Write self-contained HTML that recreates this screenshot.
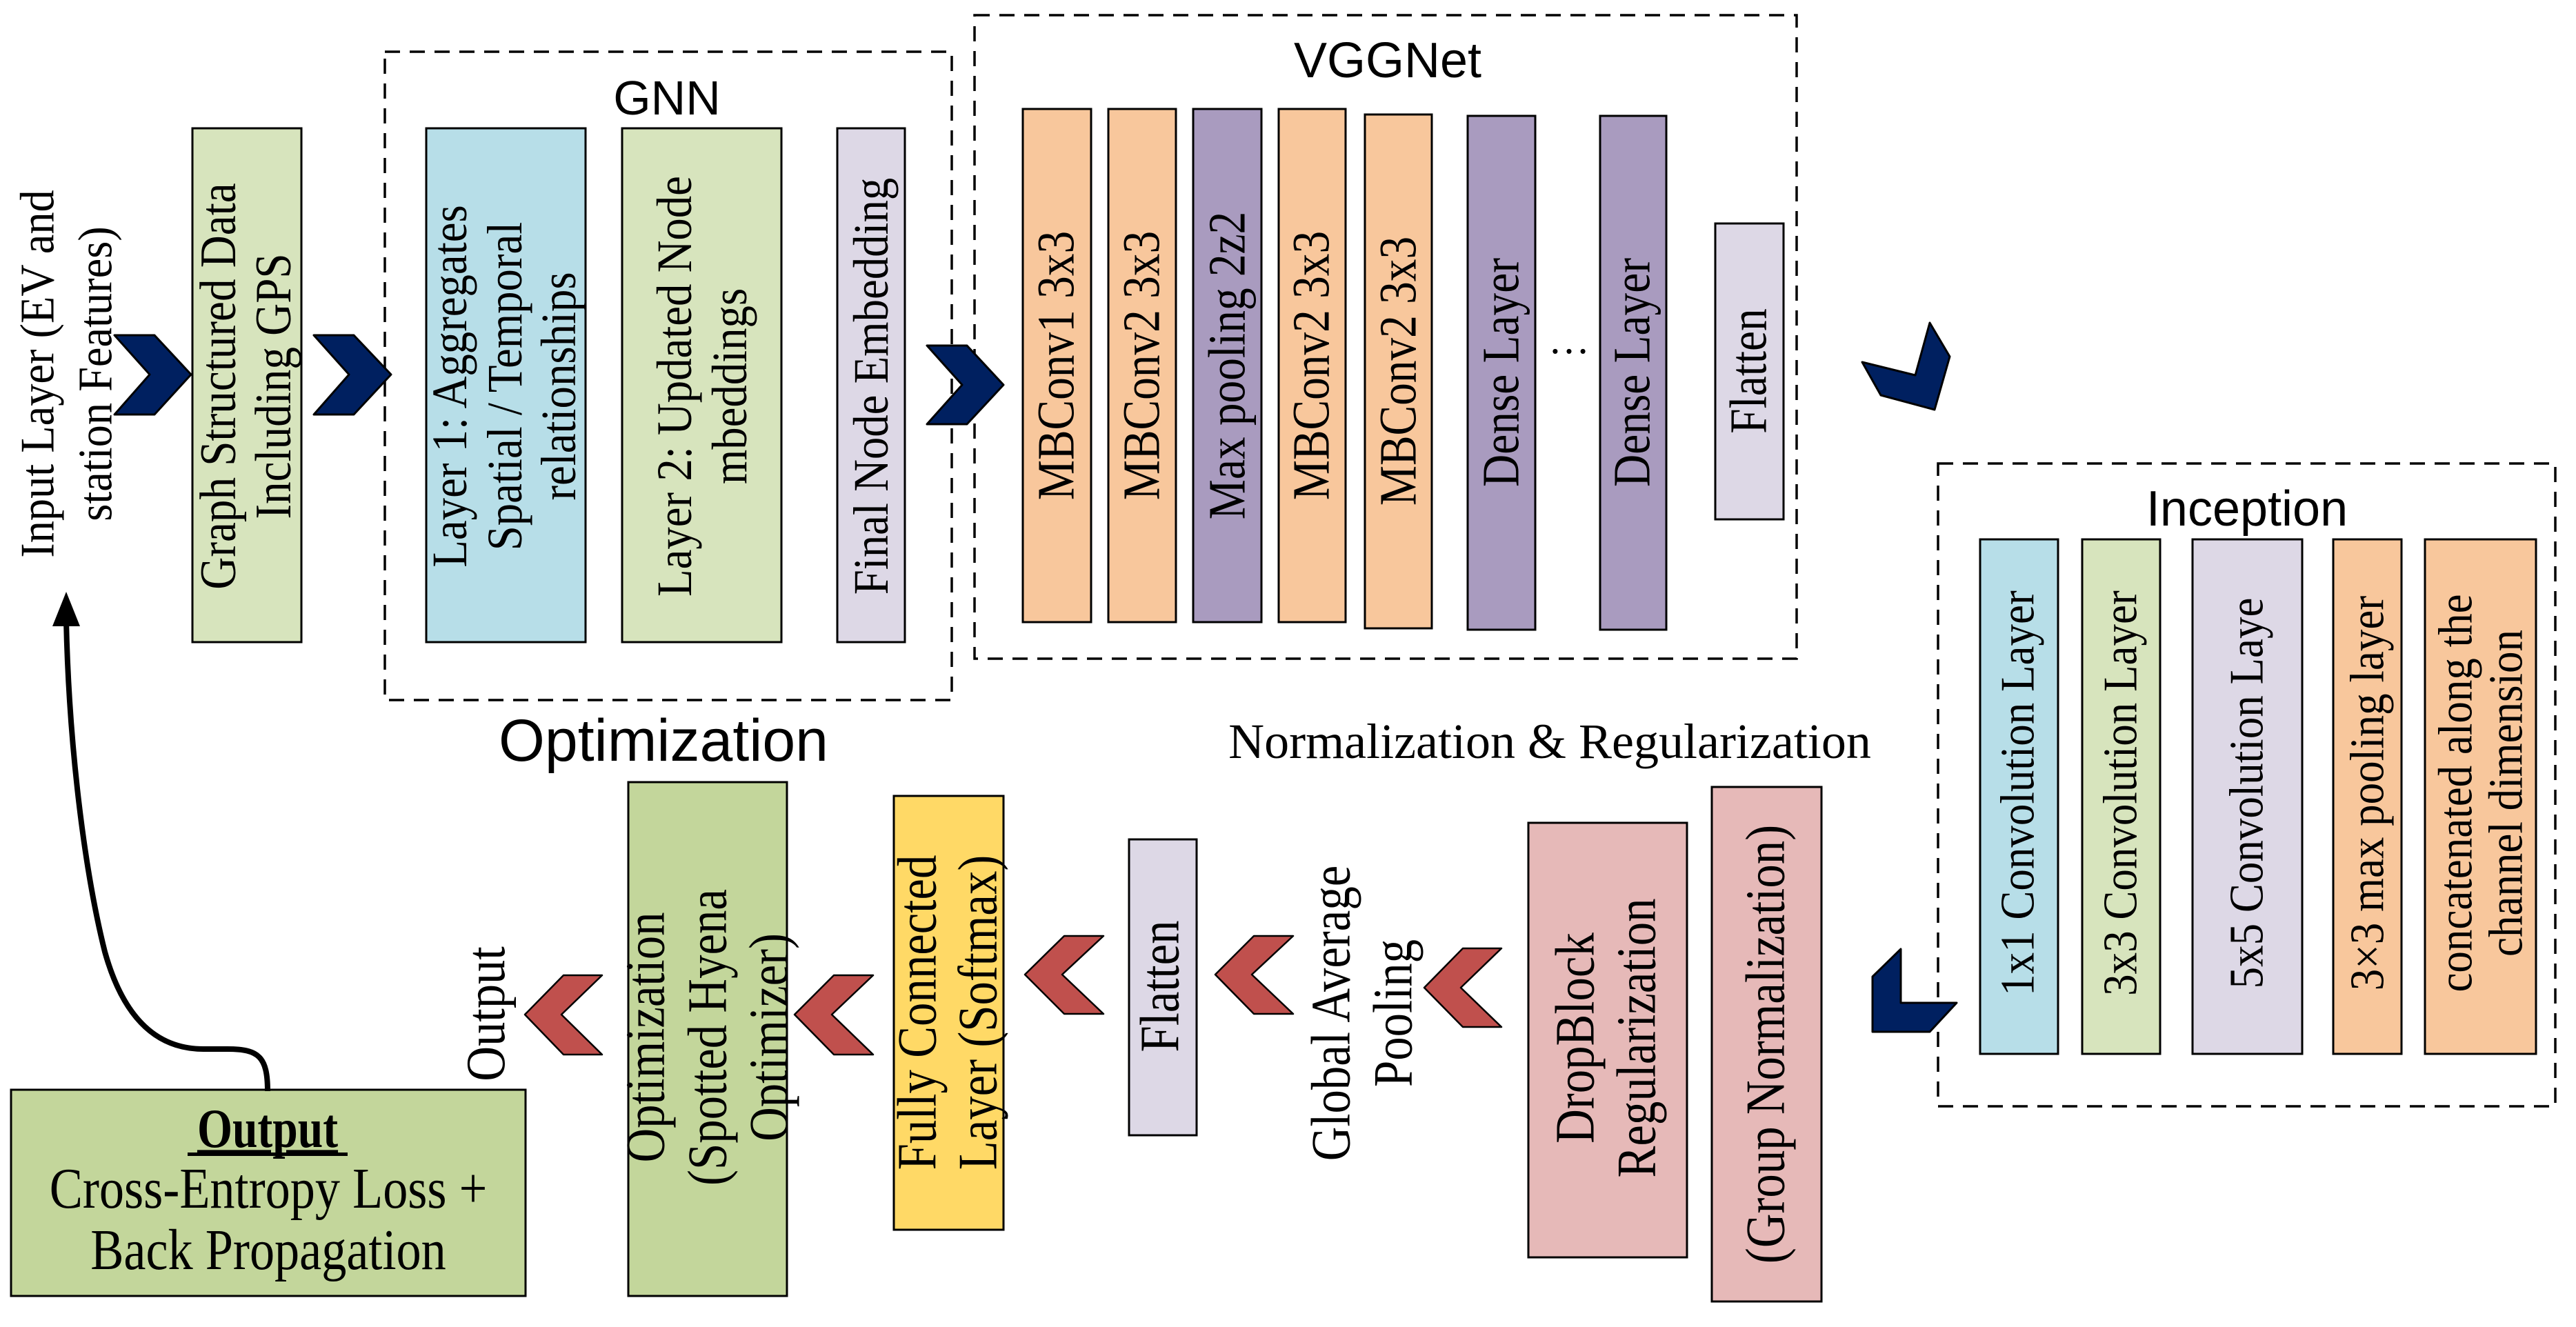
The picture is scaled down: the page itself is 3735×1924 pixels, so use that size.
<!DOCTYPE html>
<html><head><meta charset="utf-8"><style>
html,body{margin:0;padding:0;background:#fff;}
svg{display:block;}
.s{font-family:"Liberation Serif",serif;fill:#000;}
.a{font-family:"Liberation Sans",sans-serif;fill:#000;}
</style></head><body>
<svg width="3735" height="1924" viewBox="0 0 3735 1924" xmlns="http://www.w3.org/2000/svg">
<g fill="none" stroke="#000" stroke-width="3.5" stroke-dasharray="22 14">
<rect x="558" y="75" width="822" height="940"/>
<rect x="1413" y="22" width="1192" height="933"/>
<rect x="2810" y="672" width="895" height="932"/>
</g>
<g stroke="#000" stroke-width="3">
<rect x="279" y="186" width="158" height="745" fill="#D7E4BD"/>
<rect x="618" y="186" width="231" height="745" fill="#B7DEE8"/>
<rect x="902" y="186" width="231" height="745" fill="#D7E4BD"/>
<rect x="1214" y="186" width="98" height="745" fill="#DDD8E6"/>
<rect x="1483" y="158" width="99" height="744" fill="#F8C79C"/>
<rect x="1607" y="158" width="98" height="744" fill="#F8C79C"/>
<rect x="1730" y="158" width="99" height="744" fill="#A99BBF"/>
<rect x="1854" y="158" width="97" height="744" fill="#F8C79C"/>
<rect x="1979" y="166" width="97" height="745" fill="#F8C79C"/>
<rect x="2128" y="168" width="98" height="745" fill="#A99BBF"/>
<rect x="2320" y="168" width="96" height="745" fill="#A99BBF"/>
<rect x="2487" y="324" width="99" height="429" fill="#DDD8E6"/>
<rect x="2871" y="782" width="113" height="746" fill="#B7DEE8"/>
<rect x="3019" y="782" width="113" height="746" fill="#D7E4BD"/>
<rect x="3179" y="782" width="159" height="746" fill="#DDD8E6"/>
<rect x="3383" y="782" width="99" height="746" fill="#F8C79C"/>
<rect x="3516" y="782" width="161" height="746" fill="#F8C79C"/>
<rect x="16" y="1580" width="746" height="299" fill="#C3D69B"/>
<rect x="911" y="1134" width="230" height="745" fill="#C3D69B"/>
<rect x="1296" y="1154" width="159" height="629" fill="#FFD966"/>
<rect x="1637" y="1217" width="98" height="429" fill="#DDD8E6"/>
<rect x="2216" y="1193" width="230" height="630" fill="#E6B9B8"/>
<rect x="2482" y="1141" width="159" height="746" fill="#E6B9B8"/>
</g>
<g fill="#002060" stroke="#000" stroke-width="3" stroke-linejoin="round">
<polygon points="166,486 224,486 277,543 224,601 166,601 217,543"/>
<polygon points="455,486 513,486 567,543 513,601 455,601 506,543"/>
<polygon points="1344,501 1402,501 1455,558 1402,615 1344,615 1395,558"/>
<polygon points="2700,525 2777,544 2798,468 2827,517 2805,594 2727,573"/>
<polygon points="2756,1376 2756,1454 2837,1454 2798,1496 2715,1496 2715,1416"/>
</g>
<g fill="#C0504D" stroke="#000" stroke-width="2.5" stroke-linejoin="round">
<polygon points="873,1414 817,1414 761,1471 817,1529 873,1529 814,1471"/>
<polygon points="1266,1414 1209,1414 1152,1471 1209,1529 1266,1529 1206,1471"/>
<polygon points="1600,1357 1543,1357 1486,1413 1543,1470 1600,1470 1540,1413"/>
<polygon points="1875,1357 1818,1357 1762,1413 1818,1470 1875,1470 1815,1413"/>
<polygon points="2177,1375 2121,1375 2065,1432 2121,1489 2177,1489 2118,1432"/>
</g>
<path d="M388,1582 C388,1532 375,1521 330,1521 L295,1521 C230,1521 180,1480 152,1380 C122,1260 100,1080 96,900" fill="none" stroke="#000" stroke-width="8"/>
<polygon points="96,858 76,908 116,908" fill="#000"/>
<text class="a" x="967" y="166" font-size="70" text-anchor="middle">GNN</text>
<text class="a" x="2012" y="112" font-size="72" text-anchor="middle">VGGNet</text>
<text class="a" x="3258" y="762" font-size="72" text-anchor="middle">Inception</text>
<text class="a" x="962" y="1103" font-size="86" text-anchor="middle">Optimization</text>
<text class="s" x="2247" y="1099" font-size="72" text-anchor="middle">Normalization &amp; Regularization</text>
<text class="s" x="2275" y="512" font-size="60" text-anchor="middle">…</text>
<g class="s" text-anchor="middle" dominant-baseline="central">
<g font-size="70">
<text transform="translate(54,542) rotate(-90) scale(0.92,1)">Input Layer (EV and</text>
<text transform="translate(138,542) rotate(-90) scale(0.92,1)">station Features)</text>
</g>
<g font-size="74">
<text transform="translate(317,560) rotate(-90) scale(0.88,1)">Graph Structured Data</text>
<text transform="translate(397,560) rotate(-90) scale(0.88,1)">Including GPS</text>
</g>
<g font-size="72">
<text transform="translate(652,560) rotate(-90) scale(0.9,1)">Layer 1: Aggregates</text>
<text transform="translate(732,560) rotate(-90) scale(0.9,1)">Spatial / Temporal</text>
<text transform="translate(810,560) rotate(-90) scale(0.9,1)">relationships</text>
<text transform="translate(978,560) rotate(-90) scale(0.9,1)">Layer 2: Updated Node</text>
<text transform="translate(1058,560) rotate(-90) scale(0.9,1)">mbeddings</text>
<text transform="translate(1263,560) rotate(-90) scale(0.9,1)">Final Node Embedding</text>
</g>
<g font-size="76">
<text transform="translate(1532,530) rotate(-90) scale(0.86,1)">MBConv1 3x3</text>
<text transform="translate(1656,530) rotate(-90) scale(0.86,1)">MBConv2 3x3</text>
<text transform="translate(1780,530) rotate(-90) scale(0.86,1)">Max pooling 2z2</text>
<text transform="translate(1902,530) rotate(-90) scale(0.86,1)">MBConv2 3x3</text>
<text transform="translate(2028,538) rotate(-90) scale(0.86,1)">MBConv2 3x3</text>
<text transform="translate(2177,540) rotate(-90) scale(0.86,1)">Dense Layer</text>
<text transform="translate(2367,540) rotate(-90) scale(0.86,1)">Dense Layer</text>
<text transform="translate(2536,538) rotate(-90) scale(0.86,1)">Flatten</text>
</g>
<g font-size="70">
<text transform="translate(2926,1150) rotate(-90) scale(0.9,1)">1x1 Convolution Layer</text>
<text transform="translate(3075,1150) rotate(-90) scale(0.9,1)">3x3 Convolution Layer</text>
<text transform="translate(3258,1150) rotate(-90) scale(0.9,1)">5x5 Convolution Laye</text>
<text transform="translate(3433,1150) rotate(-90) scale(0.9,1)">3×3 max pooling layer</text>
<text transform="translate(3561,1150) rotate(-90) scale(0.9,1)">concatenated along the</text>
<text transform="translate(3634,1150) rotate(-90) scale(0.9,1)">channel dimension</text>
</g>
<g font-size="80">
<text transform="translate(705,1470) rotate(-90) scale(0.88,1)">Output</text>
<text transform="translate(937,1504) rotate(-90) scale(0.86,1)">Optimization</text>
<text transform="translate(1027,1504) rotate(-90) scale(0.86,1)">(Spotted Hyena</text>
<text transform="translate(1116,1504) rotate(-90) scale(0.86,1)">Optimizer)</text>
<text transform="translate(1331,1468) rotate(-90) scale(0.86,1)">Fully Connected</text>
<text transform="translate(1419,1468) rotate(-90) scale(0.86,1)">Layer (Softmax)</text>
<text transform="translate(1683,1430) rotate(-90) scale(0.86,1)">Flatten</text>
<text transform="translate(1931,1469) rotate(-90) scale(0.86,1)">Global Average</text>
<text transform="translate(2021,1469) rotate(-90) scale(0.86,1)">Pooling</text>
<text transform="translate(2285,1505) rotate(-90) scale(0.86,1)">DropBlock</text>
<text transform="translate(2374,1505) rotate(-90) scale(0.86,1)">Regularization</text>
<text transform="translate(2561,1514) rotate(-90) scale(0.86,1)">(Group Normalization)</text>
</g>
</g>
<g class="s" text-anchor="middle">
<text transform="translate(388,1663) scale(0.82,1)" font-size="80" font-weight="bold" text-decoration="underline">Output</text>
<text transform="translate(389,1751) scale(0.86,1)" font-size="84">Cross-Entropy Loss +</text>
<text transform="translate(389,1840) scale(0.86,1)" font-size="84">Back Propagation</text>
</g>
<rect x="272" y="1671" width="232" height="5" fill="#000"/>
</svg>
</body></html>
